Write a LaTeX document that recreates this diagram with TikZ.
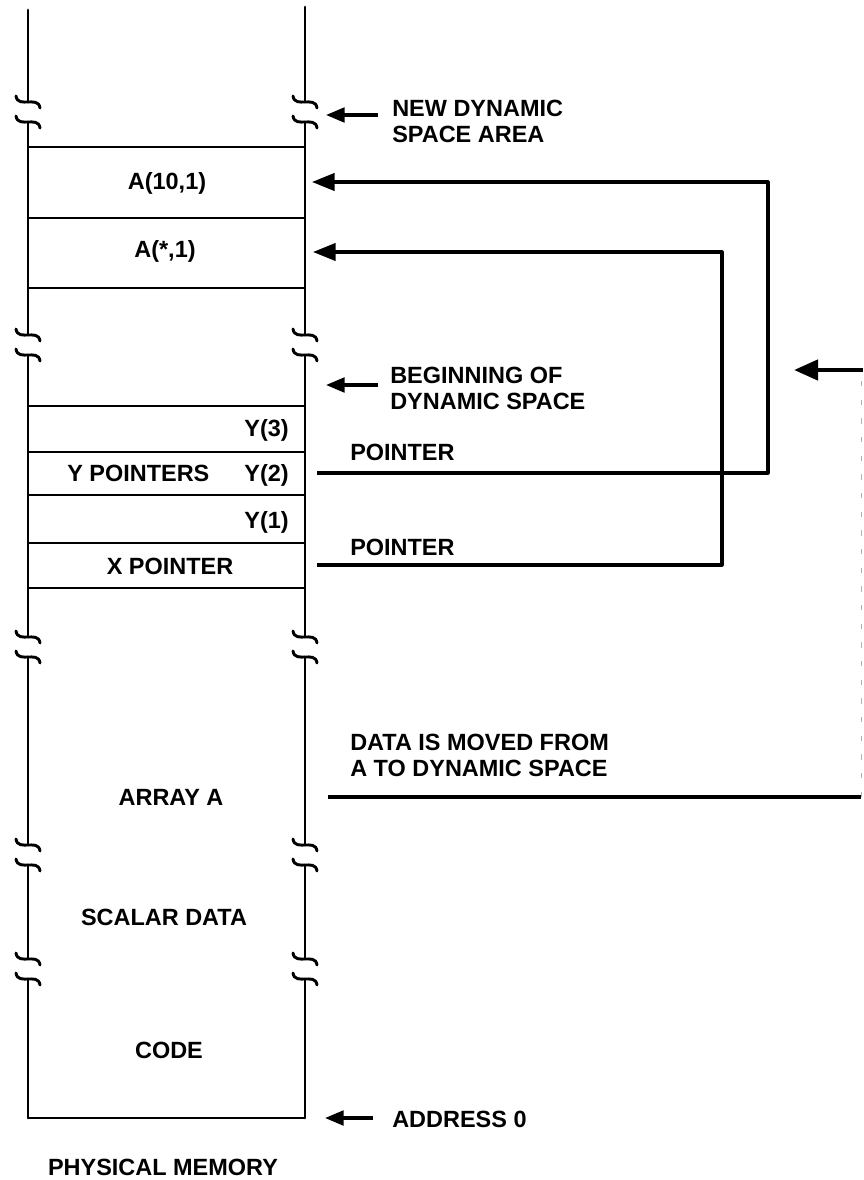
\documentclass[tikz,border=0pt]{standalone}
\usepackage{fontspec}
\setmainfont{Liberation Sans}
\usetikzlibrary{arrows.meta}
\newcommand\tld[2]{(#1-12,#2-6) .. controls (#1-11,#2+1) and (#1-5,#2) .. (#1,#2) .. controls (#1+5,#2) and (#1+11,#2-1) .. (#1+12,#2+6)}
\begin{document}
\begin{tikzpicture}[x=0.75pt,y=-0.75pt,
  lbl/.style={font=\bfseries\fontsize{17.6}{19.5}\selectfont, inner sep=0pt, align=left},
  mem/.style={line width=2.2pt, line cap=round},
  sep/.style={line width=2.2pt},
  ptr/.style={line width=2.4pt, line join=round},
  bigarr/.style={-{Triangle[length=17pt,width=13pt]}},
  smallarr/.style={line width=2.4pt, -{Triangle[length=14pt,width=11pt]}},
  thick data/.style={line width=3.4pt}]
\useasboundingbox (0,0) rectangle (863,1180);

% vertical walls with break marks
\foreach \x/\t in {28/10, 305/7}{
  \draw[mem] (\x,\t) -- (\x,102);
  \draw[mem] (\x,122) -- (\x,335);
  \draw[mem] (\x,355) -- (\x,637);
  \draw[mem] (\x,657) -- (\x,845);
  \draw[mem] (\x,865) -- (\x,959);
  \draw[mem] (\x,979) -- (\x,1118);
  \foreach \c in {102,122,335,355,637,657,845,865,959,979}{
    \draw[mem] \tld{\x}{\c};
  }
}
% separators
\foreach \y in {147,218,288,406,452,495,543,588}{
  \draw[sep] (28,\y) -- (305,\y);
}
\draw[sep] (28,1118) -- (305,1118);

% row texts
\node[lbl] (a10) at (167,183) {A(10,1)};
\node[lbl] (astar) at (165,251) {A(*,1)};
\node[lbl, anchor=base east] (y3) at (289,436) {Y(3)};
\node[lbl, anchor=base west] (yptrs) at (67,481) {Y POINTERS};
\node[lbl, anchor=base east] (y2) at (289,481) {Y(2)};
\node[lbl, anchor=base east] (y1) at (289,528) {Y(1)};
\node[lbl] (xptr) at (170,566) {X POINTER};
\node[lbl] (arraya) at (171,797) {ARRAY A};
\node[lbl] (scalar) at (164,917) {SCALAR DATA};
\node[lbl] (code) at (169,1050) {CODE};
\node[lbl] (phys) at (163,1167) {PHYSICAL MEMORY};

% side labels
\node[lbl, anchor=north west] (newdyn) at (392,100) {NEW DYNAMIC\\SPACE AREA};
\node[lbl, anchor=north west] (begdyn) at (390,367) {BEGINNING OF\\DYNAMIC SPACE};
\node[lbl, anchor=north west] (moved) at (350,734) {DATA IS MOVED FROM\\A TO DYNAMIC SPACE};
\node[lbl, anchor=west] (addr) at (392,1119) {ADDRESS 0};
\node[lbl, anchor=base west] (ptr1) at (350,460) {POINTER};
\node[lbl, anchor=base west] (ptr2) at (350,555) {POINTER};

% short marker arrows
\coordinate (nd0) at (378,115); \coordinate (nd1) at (326,115);
\coordinate (bd0) at (378,385); \coordinate (bd1) at (326,385);
\coordinate (ad0) at (373,1118); \coordinate (ad1) at (325,1118);
\draw[smallarr] (nd0) -- (nd1);
\draw[smallarr] (bd0) -- (bd1);
\draw[smallarr] (ad0) -- (ad1);

% pointer connectors
\coordinate (p1s) at (317,473); \coordinate (p1c) at (768,473);
\coordinate (p1e) at (312,182);
\coordinate (p2s) at (317,565); \coordinate (p2c) at (722,565);
\coordinate (p2e) at (313,252);
\draw[ptr, bigarr] (p1s) -- (p1c) |- (p1e);
\draw[ptr, bigarr] (p2s) -- (p2c) |- (p2e);

% data move connector
\coordinate (ds) at (328,797); \coordinate (dc) at (861,797);
\coordinate (dt) at (861,370); \coordinate (de) at (794,370);
\draw[thick data] (ds) -- (dc);
\draw[line width=0.6pt, gray!60, dash pattern=on 4pt off 10pt] (dc) -- (dt);
\draw[line width=3.4pt, -{Triangle[length=18pt,width=15pt]}] (863,370) -- (de);
\end{tikzpicture}
\end{document}
